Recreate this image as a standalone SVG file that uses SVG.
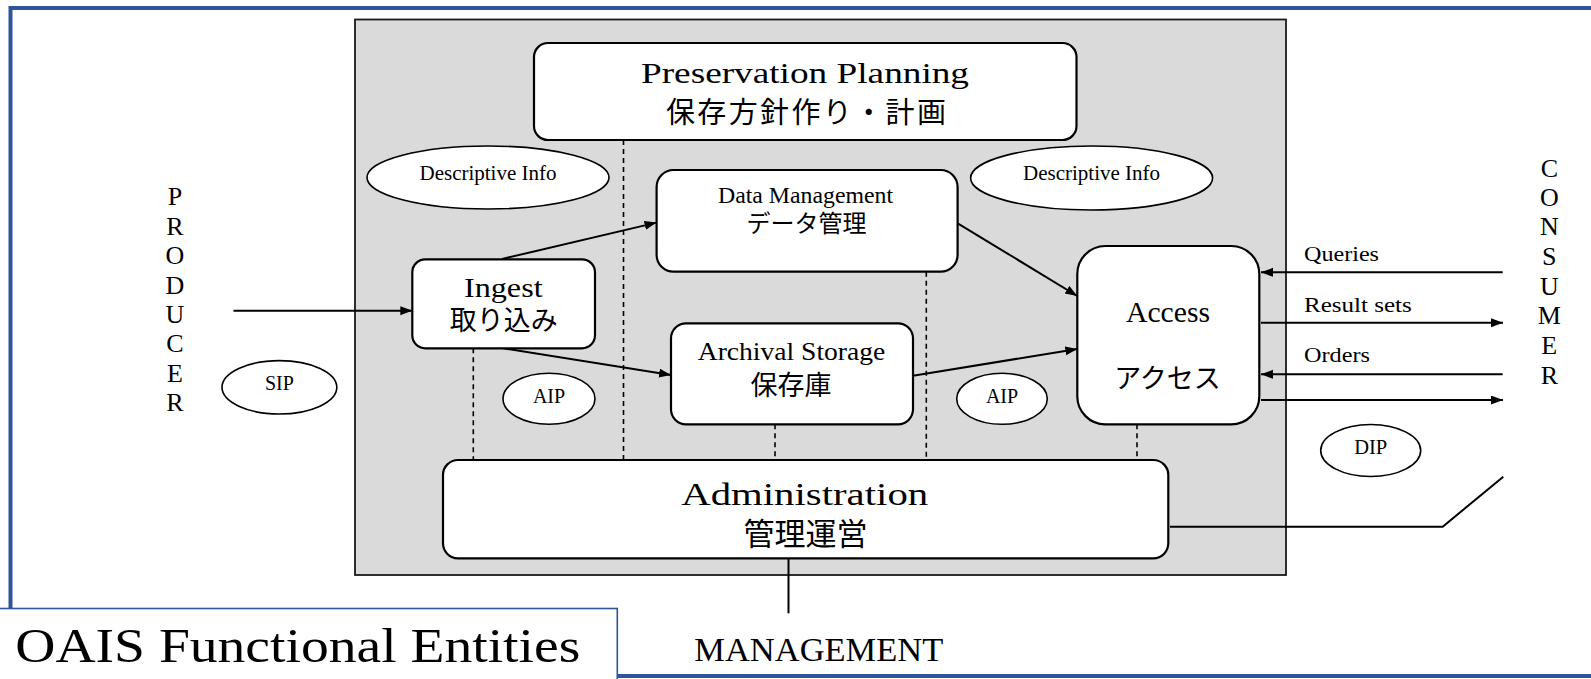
<svg xmlns="http://www.w3.org/2000/svg" width="1591" height="679" viewBox="0 0 1591 679">
<style>
.bg{fill:#ffffff}
.frame{fill:none;stroke:#2f5597;stroke-width:4}
.title-box{fill:#ffffff;stroke:#2f5597;stroke-width:1.6}
.gray{fill:#dadada;stroke:#1a1a1a;stroke-width:1.8}
.box{fill:#ffffff;stroke:#000;stroke-width:2.2}
.oval{fill:#ffffff;stroke:#000;stroke-width:1.6}
.lat{font-family:"Liberation Serif","Times New Roman",serif;fill:#000}
.jp{font-family:"Noto Sans CJK JP","Noto Sans CJK SC",sans-serif;fill:#000}
.mid{text-anchor:middle}
.conn{fill:none;stroke:#000;stroke-width:2}
.dash{fill:none;stroke:#000;stroke-width:1.6;stroke-dasharray:5 4}
</style>
<defs>
<marker id="arr" markerUnits="userSpaceOnUse" markerWidth="12" markerHeight="10" refX="12" refY="4.5" orient="auto">
<path d="M0,0 L12,4.5 L0,9 z" fill="#000"/>
</marker>
</defs>
<rect class="bg" x="0" y="0" width="1591" height="679"/>
<rect class="frame" x="10.5" y="8" width="1600" height="668"/>
<g id="archive">
<rect class="gray" x="355" y="19.5" width="931" height="555.5"/>
</g>
<g id="connectors">
<line class="dash" x1="623.5" y1="140" x2="623.5" y2="460"/>
<line class="dash" x1="473.3" y1="348.3" x2="473.3" y2="460"/>
<line class="dash" x1="775" y1="424.3" x2="775" y2="460"/>
<line class="dash" x1="926.3" y1="271.7" x2="926.3" y2="460"/>
<line class="dash" x1="1137" y1="424.3" x2="1137" y2="460"/>
<line class="conn" x1="233.5" y1="310.7" x2="412.3" y2="310.7" marker-end="url(#arr)"/>
<line class="conn" x1="502" y1="259" x2="656.6" y2="222.6" marker-end="url(#arr)"/>
<line class="conn" x1="503.3" y1="348.3" x2="671" y2="375" marker-end="url(#arr)"/>
<line class="conn" x1="957.7" y1="223.3" x2="1077.3" y2="296" marker-end="url(#arr)"/>
<line class="conn" x1="913" y1="375.7" x2="1077.3" y2="349" marker-end="url(#arr)"/>
<line class="conn" x1="1502.7" y1="272.3" x2="1261" y2="272.3" marker-end="url(#arr)"/>
<line class="conn" x1="1261" y1="322.7" x2="1503" y2="322.7" marker-end="url(#arr)"/>
<line class="conn" x1="1502.7" y1="374.3" x2="1261" y2="374.3" marker-end="url(#arr)"/>
<line class="conn" x1="1261" y1="400" x2="1503" y2="400" stroke-width="2.6" marker-end="url(#arr)"/>
<polyline class="conn" points="1170,526.7 1442.7,526.7 1503.3,476.7"/>
<line class="conn" x1="788.5" y1="558.3" x2="788.5" y2="613.3"/>
</g>
<g id="preservation-planning">
<rect class="box" x="534" y="43" width="542.5" height="97" rx="14"/>
<text class="lat mid" x="805" y="83.3" font-size="30" textLength="328" lengthAdjust="spacingAndGlyphs">Preservation Planning</text>
<text class="jp mid" x="806" y="123" font-size="29" textLength="280" lengthAdjust="spacing">保存方針作り・計画</text>
</g>
<g id="desc-info-1">
<ellipse class="oval" cx="488" cy="177.5" rx="121" ry="31.5"/>
<text class="lat mid" x="488" y="180" font-size="21">Descriptive Info</text>
</g>
<g id="desc-info-2">
<ellipse class="oval" cx="1091.6" cy="178" rx="121" ry="32"/>
<text class="lat mid" x="1091.6" y="180" font-size="21">Descriptive Info</text>
</g>
<g id="data-management">
<rect class="box" x="656.6" y="170" width="301" height="101.7" rx="17"/>
<text class="lat mid" x="805.5" y="203" font-size="23" textLength="175" lengthAdjust="spacingAndGlyphs">Data Management</text>
<text class="jp mid" x="806.5" y="231.5" font-size="24">データ管理</text>
</g>
<g id="ingest">
<rect class="box" x="412.3" y="259.3" width="182.7" height="89" rx="13"/>
<text class="lat mid" x="503.3" y="297.3" font-size="28" textLength="78.7" lengthAdjust="spacingAndGlyphs">Ingest</text>
<text class="jp mid" x="503.7" y="330" font-size="27">取り込み</text>
</g>
<g id="archival-storage">
<rect class="box" x="671" y="323.3" width="242" height="101" rx="15"/>
<text class="lat mid" x="791.5" y="360" font-size="26" textLength="187.5" lengthAdjust="spacingAndGlyphs">Archival Storage</text>
<text class="jp mid" x="791" y="395" font-size="27">保存庫</text>
</g>
<g id="access">
<rect class="box" x="1077.3" y="246" width="182" height="178.3" rx="28"/>
<text class="lat mid" x="1168" y="322" font-size="29" textLength="84" lengthAdjust="spacingAndGlyphs">Access</text>
<text class="jp mid" x="1167.5" y="388" font-size="27">アクセス</text>
</g>
<g id="administration">
<rect class="box" x="443" y="460" width="725.3" height="98.3" rx="15"/>
<text class="lat mid" x="804.7" y="505" font-size="32" textLength="247" lengthAdjust="spacingAndGlyphs">Administration</text>
<text class="jp mid" x="805.5" y="544.5" font-size="31">管理運営</text>
</g>
<g id="sip">
<ellipse class="oval" cx="279.4" cy="387.3" rx="57.4" ry="26.7"/>
<text class="lat mid" x="279.4" y="390" font-size="20">SIP</text>
</g>
<g id="aip-1">
<ellipse class="oval" cx="549" cy="398.7" rx="46" ry="25.5"/>
<text class="lat mid" x="549" y="403" font-size="20">AIP</text>
</g>
<g id="aip-2">
<ellipse class="oval" cx="1002" cy="398.8" rx="45.3" ry="25.5"/>
<text class="lat mid" x="1002" y="402.7" font-size="20">AIP</text>
</g>
<g id="dip">
<ellipse class="oval" cx="1370.7" cy="450.5" rx="50" ry="26"/>
<text class="lat mid" x="1370.7" y="454.3" font-size="20.5">DIP</text>
</g>
<g id="flow-labels">
<text class="lat" x="1304" y="260.7" font-size="21" textLength="75" lengthAdjust="spacingAndGlyphs">Queries</text>
<text class="lat" x="1304" y="311.7" font-size="21" textLength="107.7" lengthAdjust="spacingAndGlyphs">Result sets</text>
<text class="lat" x="1304" y="361.7" font-size="21" textLength="66" lengthAdjust="spacingAndGlyphs">Orders</text>
</g>
<g id="producer">
<text class="lat mid" font-size="26"><tspan x="175" y="205">P</tspan><tspan x="175" y="234.5">R</tspan><tspan x="175" y="264">O</tspan><tspan x="175" y="293.5">D</tspan><tspan x="175" y="323">U</tspan><tspan x="175" y="352">C</tspan><tspan x="175" y="381.5">E</tspan><tspan x="175" y="411">R</tspan></text>
</g>
<g id="consumer">
<text class="lat mid" font-size="26"><tspan x="1549.3" y="176.7">C</tspan><tspan x="1549.3" y="206">O</tspan><tspan x="1549.3" y="235">N</tspan><tspan x="1549.3" y="265">S</tspan><tspan x="1549.3" y="295">U</tspan><tspan x="1549.3" y="324">M</tspan><tspan x="1549.3" y="354">E</tspan><tspan x="1549.3" y="383.5">R</tspan></text>
</g>
<g id="management">
<text class="lat mid" x="818.8" y="660.7" font-size="34" textLength="249" lengthAdjust="spacingAndGlyphs">MANAGEMENT</text>
</g>
<g id="title">
<rect class="title-box" x="-5" y="608.5" width="622.3" height="100"/>
<text class="lat" x="15.3" y="661.7" font-size="48" textLength="565" lengthAdjust="spacingAndGlyphs">OAIS Functional Entities</text>
</g>
</svg>
